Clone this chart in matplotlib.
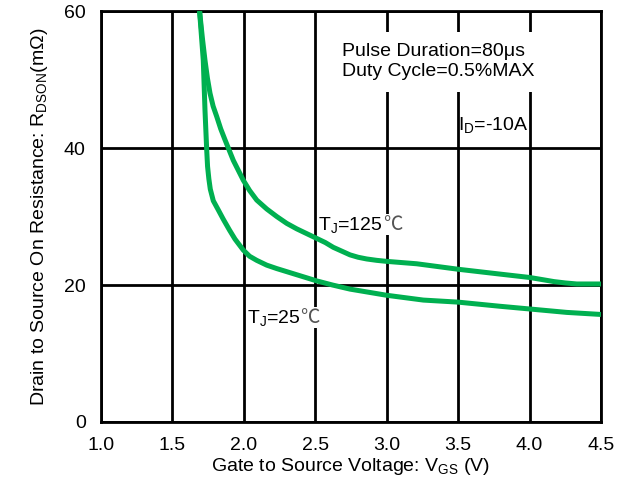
import numpy as np
import matplotlib
matplotlib.use("Agg")
import matplotlib.pyplot as plt

plt.rcParams['font.family'] = ['Liberation Sans', 'DejaVu Sans']
plt.rcParams['mathtext.fontset'] = 'custom'
plt.rcParams['mathtext.rm'] = 'Liberation Sans'
plt.rcParams['mathtext.it'] = 'Liberation Sans:italic'

# Rdson vs Vgs
vgs_125 = [1.69, 1.71, 1.728, 1.745, 1.763, 1.785, 1.81, 1.838, 1.868, 1.926, 1.996,
           2.04, 2.09, 2.16, 2.23, 2.30, 2.37, 2.44, 2.51, 2.57, 2.626, 2.69, 2.743,
           2.80, 2.86, 2.93, 3.00, 3.21, 3.50, 3.79, 4.00, 4.10, 4.17, 4.25, 4.33, 4.50]
rds_125 = [60.0, 56.0, 52.8, 50.2, 48.0, 46.1, 44.6, 42.8, 41.2, 38.2, 35.3,
           33.8, 32.4, 31.1, 30.0, 29.0, 28.2, 27.5, 26.8, 26.2, 25.5, 24.9, 24.4,
           24.05, 23.8, 23.6, 23.45, 23.1, 22.3, 21.6, 21.1, 20.75, 20.5, 20.3, 20.15, 20.15]

vgs_25 = [1.69, 1.716, 1.728, 1.74, 1.746, 1.755, 1.765, 1.786, 1.82, 1.856, 1.90,
          1.938, 1.996, 2.04, 2.09, 2.16, 2.23, 2.37, 2.51, 2.62, 2.743, 3.00, 3.256,
          3.50, 3.79, 4.00, 4.26, 4.50]
rds_25 = [60.0, 52.8, 45.5, 39.7, 37.3, 35.5, 34.0, 32.3, 31.0, 29.6, 28.0,
          26.7, 25.1, 24.2, 23.6, 22.9, 22.4, 21.5, 20.6, 20.0, 19.4, 18.5, 17.8,
          17.5, 16.9, 16.5, 16.0, 15.7]

x_ticks = [1.0, 1.5, 2.0, 2.5, 3.0, 3.5, 4.0, 4.5]
y_ticks = [0, 20, 40, 60]

green = '#00B050'

fig = plt.figure(figsize=(6.3, 4.79), dpi=100)
ax = fig.add_axes([0.1603, 0.119, 0.7937, 0.858])

ax.plot(vgs_125, rds_125, color=green, lw=3.6, solid_joinstyle='round',
        solid_capstyle='butt', zorder=4)
ax.plot(vgs_25, rds_25, color=green, lw=3.6, solid_joinstyle='round',
        solid_capstyle='butt', zorder=4)

ax.set_xlim(1.0, 4.5)
ax.set_ylim(0, 60)
ax.set_xticks(x_ticks)
ax.set_xticklabels(['%.1f' % v for v in x_ticks])
ax.set_yticks(y_ticks)
ax.tick_params(length=0, pad=11, labelsize=14)
ax.grid(True, color='black', lw=2.0, zorder=1)
ax.set_axisbelow(True)
for s in ax.spines.values():
    s.set_linewidth(2.0)

ax.set_xlabel('Gate to Source Voltage: V$_{\\rm GS}$ (V)', fontsize=14, labelpad=1)
ax.set_ylabel('Drain to Source On Resistance: R$_{\\rm DSON}$(m\u03a9)', fontsize=14,
              labelpad=10)

ax.text(2.687, 52.6, 'Pulse Duration=80\u03bcs\nDuty Cycle=0.5%MAX', fontsize=14,
        va='center', ha='left', zorder=3,
        bbox=dict(boxstyle='square,pad=0.6', fc='white', ec='none'))
ax.text(3.5, 43.4, 'I$_{\\rm D}$=-10A', fontsize=14, va='center', ha='left', zorder=3)

# temperature labels: the degree sign comes from a CJK font
for x, y, s in [(2.52, 28.8, 'T$_{\\rm J}$=125'), (2.02, 15.2, 'T$_{\\rm J}$=25')]:
    t = ax.text(x, y, s, fontsize=14, va='center', ha='left', zorder=3,
                bbox=dict(boxstyle='square,pad=0.05', fc='white', ec='none'))
    ax.annotate('\u2103', xy=(1.0, 0.5), xycoords=t, fontsize=14, va='center',
                ha='left', color='#555555', family='Noto Sans CJK SC', zorder=3,
                annotation_clip=False,
                bbox=dict(boxstyle='square,pad=0.0', fc='white', ec='none'))

fig.savefig('out.png', dpi=100)
